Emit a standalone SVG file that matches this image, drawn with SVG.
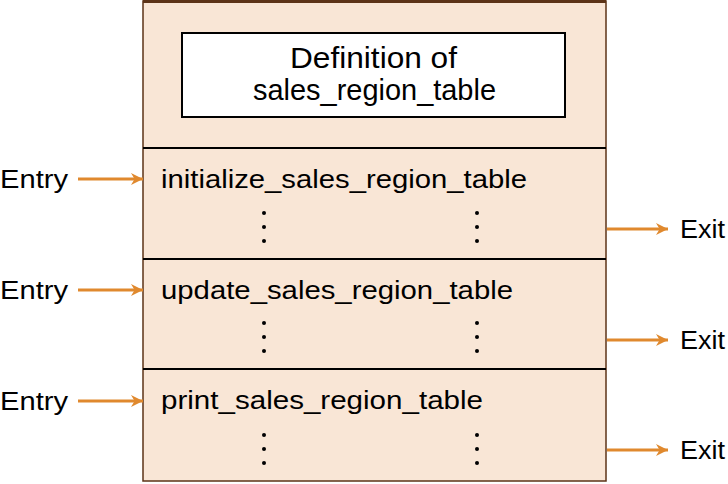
<svg xmlns="http://www.w3.org/2000/svg" width="728" height="484" viewBox="0 0 728 484">
<defs>
<marker id="ah" viewBox="0 0 10 10" refX="10" refY="5" markerWidth="12" markerHeight="12" markerUnits="userSpaceOnUse" orient="auto">
<path d="M0,0 L10,5 L0,10 L3,5 Z" fill="#e0892e"/>
</marker>
<style>
text{font-family:"Liberation Sans",Arial,sans-serif;font-size:26px;fill:#000}
.big{font-size:29px}
.div{stroke:#000;stroke-width:2}
.arr{stroke:#e0892e;stroke-width:3;fill:none;marker-end:url(#ah)}
.dot{fill:#000}
</style>
</defs>
<g id="module">
<rect x="143" y="1" width="463" height="480" fill="#f9e6d6" stroke="#5c3317" stroke-width="1.5"/>
<line x1="143" y1="1.5" x2="606" y2="1.5" stroke="#5c3317" stroke-width="3"/>
</g>
<g id="definition">
<rect x="182" y="33" width="383" height="84" fill="#fff" stroke="#000" stroke-width="2"/>
<text class="big" x="290" y="68" textLength="167" lengthAdjust="spacingAndGlyphs">Definition of</text>
<text class="big" x="253" y="100" textLength="243" lengthAdjust="spacingAndGlyphs">sales_region_table</text>
</g>
<g id="section1">
<line class="div" x1="143" y1="148" x2="606" y2="148"/>
<text x="161" y="188" textLength="366" lengthAdjust="spacingAndGlyphs">initialize_sales_region_table</text>
<circle class="dot" cx="264" cy="213" r="2"/><circle class="dot" cx="264" cy="227" r="2"/><circle class="dot" cx="264" cy="241" r="2"/>
<circle class="dot" cx="477" cy="213" r="2"/><circle class="dot" cx="477" cy="227" r="2"/><circle class="dot" cx="477" cy="241" r="2"/>
</g>
<g id="section2">
<line class="div" x1="143" y1="259" x2="606" y2="259"/>
<text x="161" y="299" textLength="352" lengthAdjust="spacingAndGlyphs">update_sales_region_table</text>
<circle class="dot" cx="264" cy="323" r="2"/><circle class="dot" cx="264" cy="337" r="2"/><circle class="dot" cx="264" cy="351" r="2"/>
<circle class="dot" cx="477" cy="323" r="2"/><circle class="dot" cx="477" cy="337" r="2"/><circle class="dot" cx="477" cy="351" r="2"/>
</g>
<g id="section3">
<line class="div" x1="143" y1="369" x2="606" y2="369"/>
<text x="161" y="409" textLength="322" lengthAdjust="spacingAndGlyphs">print_sales_region_table</text>
<circle class="dot" cx="264" cy="435" r="2"/><circle class="dot" cx="264" cy="449" r="2"/><circle class="dot" cx="264" cy="463" r="2"/>
<circle class="dot" cx="477" cy="435" r="2"/><circle class="dot" cx="477" cy="449" r="2"/><circle class="dot" cx="477" cy="463" r="2"/>
</g>
<g id="labels">
<text x="0" y="188" textLength="68" lengthAdjust="spacingAndGlyphs">Entry</text>
<text x="0" y="299" textLength="68" lengthAdjust="spacingAndGlyphs">Entry</text>
<text x="0" y="410" textLength="68" lengthAdjust="spacingAndGlyphs">Entry</text>
<text x="680" y="238" textLength="45" lengthAdjust="spacingAndGlyphs">Exit</text>
<text x="680" y="349" textLength="45" lengthAdjust="spacingAndGlyphs">Exit</text>
<text x="680" y="459" textLength="45" lengthAdjust="spacingAndGlyphs">Exit</text>
</g>
<g id="connectors">
<line class="arr" x1="78" y1="179" x2="143" y2="179"/>
<line class="arr" x1="78" y1="290" x2="143" y2="290"/>
<line class="arr" x1="78" y1="401" x2="143" y2="401"/>
<line class="arr" x1="607" y1="229" x2="668" y2="229"/>
<line class="arr" x1="607" y1="340" x2="668" y2="340"/>
<line class="arr" x1="607" y1="450" x2="668" y2="450"/>
</g>
</svg>
